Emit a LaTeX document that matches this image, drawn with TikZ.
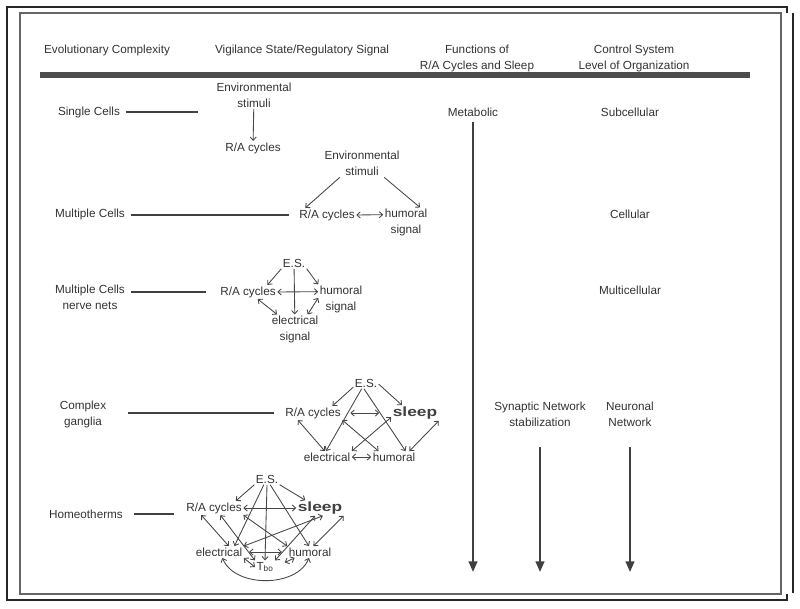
\documentclass[tikz,border=0pt]{standalone}
\usepackage{fontspec}
\setmainfont{Liberation Sans}
\newfontfamily\sleepfont[FakeStretch=1.3]{Liberation Sans}
\usetikzlibrary{arrows.meta,calc}

\begin{document}
\begin{tikzpicture}[x=0.75pt,y=-0.75pt,
		>={Straight Barb[length=2.5pt,width=4.6pt]},
		txt/.style={inner sep=1pt,align=center,text=black!80,font=\fontsize{8.8}{12}\selectfont},
		sleeptxt/.style={inner sep=1pt,text=black!75,font=\sleepfont\fontsize{10}{12}\selectfont\bfseries},
		lnk/.style={line width=0.65pt,draw=black!72,->},
		dbl/.style={line width=0.65pt,draw=black!72,<->},
		tie/.style={line width=1.6pt,draw=black!75},
		down/.style={line width=1.6pt,draw=black!75,-{Triangle[length=8pt,width=6.5pt]}}]
			%%%%% START %%%%%
			
			\useasboundingbox (0,0) rectangle (800,608);
			\fill[white] (0,0) rectangle (800,608);
			
			\draw[line width=1.2pt,black!85] (787,13) -- (787,7) -- (7,7) -- (7,600) -- (787,600) -- (787,594);
			\draw[line width=1.1pt,black!60] (20,13) rectangle (781,594);
			\draw[line width=1.2pt,black!85] (793,13) -- (793,593);
			
			\node[txt,anchor=north] (hEvo) at (107,43.5) {Evolutionary Complexity};
			\node[txt,anchor=north] (hVig) at (302,43.5) {Vigilance State/Regulatory Signal};
			\node[txt,anchor=north] (hFun) at (477,43.5) {Functions of\\R/A Cycles and Sleep};
			\node[txt,anchor=north] (hCon) at (634,43.5) {Control System\\Level of Organization};
			\draw[line width=4.5pt,black!70] (40,75) -- (750,75);
			
			\node[txt] (single) at (89,112) {Single Cells};
			\node[txt] (multi) at (90,214) {Multiple Cells};
			\node[txt] (nerve) at (90,297) {Multiple Cells\\nerve nets};
			\node[txt] (ganglia) at (83,414) {Complex\\ganglia};
			\node[txt] (homeo) at (86,514) {Homeotherms};
			
			\node[txt] (metab) at (473,112) {Metabolic};
			\node[txt] (subcel) at (630,112) {Subcellular};
			\node[txt] (cel) at (630,214) {Cellular};
			\node[txt] (multicel) at (630,290) {Multicellular};
			\node[txt] (synap) at (540,414.5) {Synaptic Network\\stabilization};
			\node[txt] (neuro) at (630,414.5) {Neuronal\\Network};
			
			\coordinate (arrTop) at (0,447);
			\coordinate (arrEnd) at (0,572);
			\draw[down,shorten <=3pt] (metab.south) -- (metab.south |- arrEnd);
			\draw[down] (synap |- arrTop) -- (synap |- arrEnd);
			\draw[down] (neuro |- arrTop) -- (neuro |- arrEnd);
			
			% single cells
			\node[txt] (env1) at (254,95) {Environmental\\stimuli};
			\node[txt] (ra1) at (253,148) {R/A cycles};
			\coordinate (tie1) at (198,112);
			\draw[lnk] (env1) -- (ra1);
			\draw[tie,shorten <=3pt] (single.east) -- (tie1);
			
			% multiple cells
			\node[txt] (env2) at (362,163.5) {Environmental\\stimuli};
			\node[txt] (ra2) at (327,215) {R/A cycles};
			\node[txt] (hum2) at (406,222.5) {humoral\\signal};
			\draw[lnk] (env2.212) -- (ra2.162);
			\draw[lnk] (env2.328) -- (hum2.47);
			\draw[dbl] (ra2.east) -- (hum2.161);
			\draw[tie,shorten <=3.5pt,shorten >=6.5pt] (ra2.west -| multi.east) -- (ra2.west);
			
			% nerve nets
			\node[txt] (es3) at (294,263) {E.S.};
			\node[txt] (ra3) at (248,292) {R/A cycles};
			\node[txt] (hum3) at (341,299.5) {humoral\\signal};
			\node[txt] (elec3) at (295,329.5) {electrical\\signal};
			\draw[lnk] (es3.south west) -- (ra3.20);
			\draw[lnk] (es3.south east) -- (hum3.north west);
			\draw[lnk] (es3) -- (elec3);
			\draw[dbl] (ra3.east) -- (hum3.161);
			\draw[dbl] (ra3.-36) -- (elec3.140);
			\draw[dbl] (hum3.176) -- (elec3.50);
			\draw[tie,shorten <=3.5pt,shorten >=9.5pt] (nerve.east |- ra3) -- (ra3.west);
			
			% complex ganglia
			\node[txt] (es4) at (366,383) {E.S.};
			\node[txt] (ra4) at (313,413) {R/A cycles};
			\node[sleeptxt] (sl4) at (415,413) {sleep};
			\node[txt] (elec4) at (327,457) {electrical};
			\node[txt] (hum4) at (394,457) {humoral};
			\draw[lnk] (es4.198) -- (ra4.20);
			\draw[lnk] (es4.-5) -- (sl4.149);
			\draw[lnk] (es4.233) -- (elec4.100);
			\draw[lnk] (es4.250) -- (hum4.27);
			\draw[dbl,shorten <=6pt,shorten >=9pt] (ra4.east) -- (sl4.west);
			\draw[dbl] (ra4.south east) -- (hum4.159);
			\draw[dbl] (sl4.190) -- (elec4.north east);
			\draw[dbl] (ra4.205) -- (elec4.110);
			\draw[dbl] (sl4.south east) -- (hum4.21);
			\draw[dbl] (elec4.east) -- (hum4.west);
			\draw[tie,shorten <=15pt,shorten >=7.5pt] (ganglia.east |- ra4) -- (ra4.west);
			
			% homeotherms
			\node[txt] (es5) at (267,479) {E.S.};
			\node[txt] (ra5) at (214,508) {R/A cycles};
			\node[sleeptxt] (sl5) at (320,508) {sleep};
			\node[txt] (elec5) at (219,552) {electrical};
			\node[txt] (hum5) at (310,552) {humoral};
			\node[txt] (tbo5) at (265,567) {T\textsubscript{bo}};
			\draw[lnk] (es5.south west) -- (ra5.18);
			\draw[lnk] (es5.south east) -- (sl5.152);
			\draw[lnk] (es5.241) -- (elec5.21);
			\draw[lnk] (es5.south) -- (tbo5.north);
			\draw[lnk] (es5.299) -- (hum5.100);
			\draw[dbl] (ra5.east) -- (sl5.west);
			\draw[dbl] (ra5.209) -- (elec5.31);
			\draw[dbl] (ra5.312) -- (tbo5.north west);
			\draw[dbl] (ra5.south east) -- (hum5.north west);
			\draw[dbl] (sl5.290) -- (elec5.north east);
			\draw[dbl] (sl5.238) -- (tbo5.north east);
			\draw[dbl] (sl5.south east) -- (hum5.60);
			\draw[dbl,shorten <=4pt,shorten >=4pt] (elec5.east) -- (hum5.west);
			\draw[dbl] (elec5.south east) -- (tbo5.west);
			\draw[dbl,shorten <=8pt] (tbo5.east) -- (hum5.201);
			\draw[dbl] (elec5.-60) .. controls +(12,30) and +(-12,30) .. (hum5.-100);
			\draw[tie,shorten <=7.5pt,shorten >=8pt] (homeo.east) -- (homeo.east -| ra5.west);
			
			%%%%% END %%%%%
		\end{tikzpicture}
\end{document}
